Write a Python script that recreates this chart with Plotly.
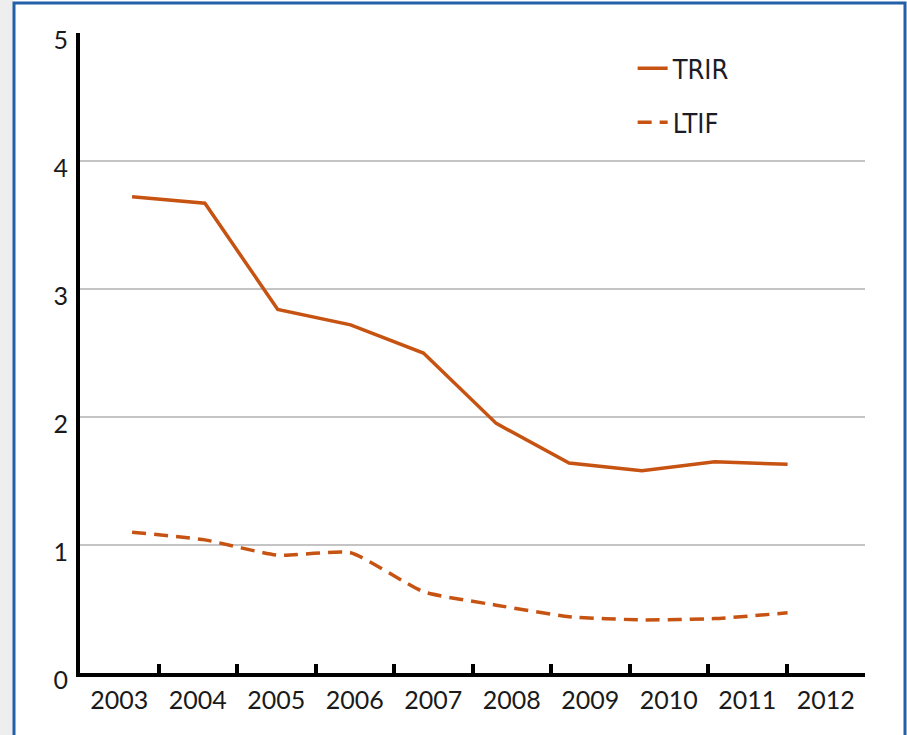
import plotly.graph_objects as go

# ---- data ----
years = ["2003", "2004", "2005", "2006", "2007", "2008", "2009", "2010", "2011", "2012"]
year_nums = [2003, 2004, 2005, 2006, 2007, 2008, 2009, 2010, 2011, 2012]
trir = [3.72, 3.67, 2.84, 2.72, 2.50, 1.95, 1.64, 1.58, 1.65, 1.63]
ltif = [1.10, 1.04, 0.92, 0.94, 0.635, 0.53, 0.44, 0.415, 0.425, 0.47]
y_ticks = [0, 1, 2, 3, 4, 5]

ORANGE = "#C65311"
TICK_FONT = "Lato, Open Sans, sans-serif"
LEG_FONT = "Liberation Sans Narrow, DejaVu Sans Condensed, Roboto, sans-serif"

fig = go.Figure()

# invisible trace to register categories on the labelled axis
fig.add_trace(go.Scatter(x=years, y=[None] * len(years), xaxis="x", yaxis="y",
                         showlegend=False, hoverinfo="skip", mode="lines"))

fig.add_trace(go.Scatter(x=year_nums, y=trir, xaxis="x2", yaxis="y", name="TRIR",
                         mode="lines", line=dict(color=ORANGE, width=3.5),
                         legendgroup="a"))
fig.add_trace(go.Scatter(x=year_nums, y=ltif, xaxis="x2", yaxis="y", name="LTIF",
                         mode="lines", line=dict(color=ORANGE, width=3.5, dash="14px,8px",
                                                 shape="spline", smoothing=0.5),
                         legendgroup="b"))

fig.update_layout(
    width=907, height=735,
    margin=dict(l=80, r=42, t=33, b=62, autoexpand=False),
    paper_bgcolor="white", plot_bgcolor="rgba(0,0,0,0)",
    xaxis=dict(type="category", categoryorder="array", categoryarray=years,
               range=[-0.5, 9.5], tickson="boundaries", ticks="inside",
               ticklen=9, tickwidth=4, tickcolor="black",
               showline=True, linecolor="black", linewidth=4,
               showgrid=False, zeroline=False, automargin=False,
               tickfont=dict(family=TICK_FONT, size=25, color="#1a1a1a"),
               ticklabelstandoff=2),
    xaxis2=dict(overlaying="x", range=[2002.285, 2013.063], visible=False),
    yaxis=dict(range=[0, 5], tickvals=y_ticks, showgrid=True,
               gridcolor="#c4c4c4", gridwidth=1.5,
               showline=True, linecolor="black", linewidth=4,
               ticks="", zeroline=False, automargin=False,
               tickfont=dict(family=TICK_FONT, size=25, color="#1a1a1a"),
               ticklabelshift=7, ticklabelstandoff=3),
    legend=dict(x=0.704, y=0.9825, xanchor="left", yanchor="top",
                bgcolor="rgba(0,0,0,0)", itemwidth=30, tracegroupgap=16,
                traceorder="grouped",
                font=dict(family=LEG_FONT, size=27, color="#1c1c28")),
    shapes=[
        dict(type="rect", xref="paper", yref="paper",
             x0=-80 / 785, x1=-67 / 785, y0=-0.2, y1=1.1,
             fillcolor="#eeeeee", line=dict(width=0), layer="below"),
        dict(type="rect", xref="paper", yref="paper",
             x0=-66 / 785, x1=825 / 785, y0=-0.2, y1=1 + 30 / 640,
             fillcolor="rgba(0,0,0,0)", line=dict(color="#2260a8", width=3),
             layer="below"),
    ],
)

fig.write_html("out.html", config={"displayModeBar": False},
               post_script="document.body.style.margin='0';")
